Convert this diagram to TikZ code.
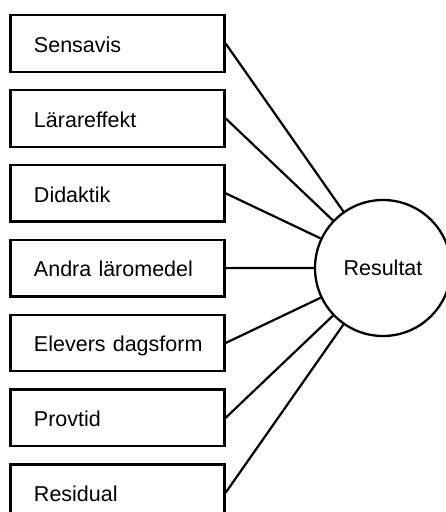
\documentclass[tikz,border=0pt]{standalone}
\usepackage{fontspec}
\setmainfont{Liberation Sans}
\begin{document}
\begin{tikzpicture}[x=1pt,y=1pt,
  every node/.style={font=\fontsize{21.5}{25}\selectfont},
  factor/.style={draw, line width=2.3pt, minimum width=214pt, minimum height=56.5pt,
    inner xsep=0pt, inner ysep=0pt, text width=190pt, align=left,
    text height=18pt, text depth=0.6pt,
    execute at begin node={\hspace*{11.5pt}}},
  outcome/.style={draw, circle, line width=2.3pt, minimum size=136pt, inner sep=0pt,
    text height=14pt, text depth=0pt},
  link/.style={line width=2.2pt}]
\useasboundingbox (0,0) rectangle (445,-512);
% factors on the left
\node[factor] (f1) at (117.5,-43.5) {Sensavis};
\node[factor] (f2) at (117.5,-118.4) {Lärareffekt};
\node[factor] (f3) at (117.5,-193.3) {Didaktik};
\node[factor] (f4) at (117.5,-268.1) {Andra läromedel};
\node[factor] (f5) at (117.5,-343.0) {Elevers dagsform};
\node[factor] (f6) at (117.5,-417.8) {Provtid};
\node[factor] (f7) at (117.5,-492.7) {Residual};
% outcome
\node[outcome] (res) at (383,-268) {Resultat};
% connectors
\foreach \i in {1,...,7}
  \draw[link] (f\i.east) -- (res);
\end{tikzpicture}
\end{document}
